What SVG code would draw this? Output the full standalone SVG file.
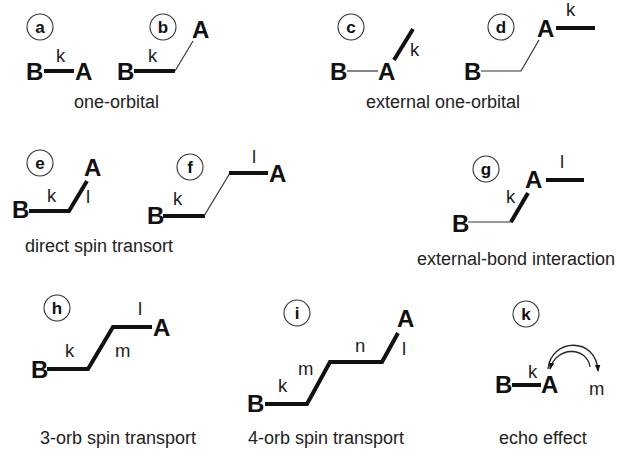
<svg xmlns="http://www.w3.org/2000/svg" width="622" height="449" viewBox="0 0 622 449">
  <defs>
    <marker id="tip" viewBox="0 0 10 10" refX="9" refY="5" markerWidth="7" markerHeight="7" orient="auto" markerUnits="userSpaceOnUse">
      <path d="M0,1 L10,5 L0,9 Z" fill="#111"/>
    </marker>
  </defs>
  <style>
    .atom { font-family: "Liberation Sans", Arial, sans-serif; font-weight: bold; font-size: 24px; fill: #111; }
    .lbl { font-family: "Liberation Sans", Arial, sans-serif; font-size: 18.5px; fill: #222; }
    .cap { font-family: "Liberation Sans", Arial, sans-serif; font-size: 18px; fill: #222; }
    .tag { font-family: "Liberation Sans", Arial, sans-serif; font-weight: bold; font-size: 17px; fill: #111; text-anchor: middle; }
    .ring { fill: none; stroke: #333; stroke-width: 1.1; }
    .thick { fill: none; stroke: #111; stroke-width: 4; stroke-linejoin: miter; }
    .thin { fill: none; stroke: #333; stroke-width: 1.2; }
    .arc { fill: none; stroke: #222; stroke-width: 1.3; marker-end: url(#tip); }
  </style>
  <rect width="622" height="449" fill="#fff"/>

  <!-- panel tags -->
  <g id="tags">
    <circle class="ring" cx="40" cy="27" r="13"/><text class="tag" x="40" y="33">a</text>
    <circle class="ring" cx="163" cy="27" r="13"/><text class="tag" x="163" y="33">b</text>
    <circle class="ring" cx="351" cy="27" r="13"/><text class="tag" x="351" y="33">c</text>
    <circle class="ring" cx="501" cy="27" r="13"/><text class="tag" x="501" y="33">d</text>
    <circle class="ring" cx="40" cy="163" r="13"/><text class="tag" x="40" y="169">e</text>
    <circle class="ring" cx="190" cy="167" r="13"/><text class="tag" x="190" y="173">f</text>
    <circle class="ring" cx="486" cy="169" r="13"/><text class="tag" x="486" y="175">g</text>
    <circle class="ring" cx="57" cy="308" r="13"/><text class="tag" x="57" y="314">h</text>
    <circle class="ring" cx="297" cy="313" r="13"/><text class="tag" x="297" y="319">i</text>
    <circle class="ring" cx="526" cy="314" r="13"/><text class="tag" x="526" y="320">k</text>
  </g>

  <!-- bonds -->
  <g id="connectors">
    <!-- a -->
    <path class="thick" d="M44,71 H74"/>
    <!-- b -->
    <path class="thick" d="M134,71 H175"/>
    <path class="thin" d="M175,71 L193,41"/>
    <!-- c -->
    <path class="thin" d="M347,71 H378"/>
    <path class="thick" d="M394,60 L413,29"/>
    <!-- d -->
    <path class="thin" d="M481,71 H521 L539,40"/>
    <path class="thick" d="M556,28 H595"/>
    <!-- e -->
    <path class="thick" d="M29,211 H69 L87,181"/>
    <!-- f -->
    <path class="thick" d="M163,216 H205"/>
    <path class="thin" d="M204,216 L230,173"/>
    <path class="thick" d="M229,173 H268"/>
    <!-- g -->
    <path class="thin" d="M468,222 H512"/>
    <path class="thick" d="M511,222 L528,193"/>
    <path class="thick" d="M546,180 H584"/>
    <!-- h -->
    <path class="thick" d="M47,369 H88 L113,327 H152"/>
    <!-- i -->
    <path class="thick" d="M265,404 H307 L330,362 H382 L398,333"/>
    <!-- k -->
    <path class="thick" d="M512,385 H541"/>
    <path class="arc" d="M548,369 C551,338 596,336 598,371"/>
    <path class="arc" d="M590,367 C587,346 556,346 550,369"/>
  </g>

  <!-- a -->
  <g id="a">
    <text class="atom" x="26" y="80">B</text>
    <text class="atom" x="75" y="80">A</text>
    <text class="lbl" x="56" y="62">k</text>
  </g>
  <!-- b -->
  <g id="b">
    <text class="atom" x="117" y="80">B</text>
    <text class="atom" x="192" y="38">A</text>
    <text class="lbl" x="148" y="62">k</text>
  </g>
  <text class="cap" x="74" y="108">one-orbital</text>

  <!-- c -->
  <g id="c">
    <text class="atom" x="330" y="80">B</text>
    <text class="atom" x="378" y="80">A</text>
    <text class="lbl" x="410" y="56">k</text>
  </g>
  <!-- d -->
  <g id="d">
    <text class="atom" x="464" y="80">B</text>
    <text class="atom" x="537" y="37">A</text>
    <text class="lbl" x="566" y="16">k</text>
  </g>
  <text class="cap" x="366" y="108">external one-orbital</text>

  <!-- e -->
  <g id="e">
    <text class="atom" x="12" y="218">B</text>
    <text class="atom" x="84" y="176">A</text>
    <text class="lbl" x="47" y="202">k</text>
    <text class="lbl" x="86" y="203">l</text>
  </g>
  <!-- f -->
  <g id="f">
    <text class="atom" x="147" y="224">B</text>
    <text class="atom" x="269" y="182">A</text>
    <text class="lbl" x="173" y="205">k</text>
    <text class="lbl" x="252" y="163">l</text>
  </g>
  <text class="cap" x="25" y="252">direct spin transort</text>

  <!-- g -->
  <g id="g">
    <text class="atom" x="452" y="232">B</text>
    <text class="atom" x="525" y="188">A</text>
    <text class="lbl" x="506" y="203">k</text>
    <text class="lbl" x="560" y="168">l</text>
  </g>
  <text class="cap" x="417" y="265">external-bond interaction</text>

  <!-- h -->
  <g id="h">
    <text class="atom" x="31" y="378">B</text>
    <text class="atom" x="153" y="336">A</text>
    <text class="lbl" x="65" y="357">k</text>
    <text class="lbl" x="115" y="357">m</text>
    <text class="lbl" x="138" y="315">l</text>
  </g>
  <text class="cap" x="40" y="444">3-orb spin transport</text>

  <!-- i -->
  <g id="i">
    <text class="atom" x="247" y="412">B</text>
    <text class="atom" x="397" y="327">A</text>
    <text class="lbl" x="278" y="392">k</text>
    <text class="lbl" x="298" y="375">m</text>
    <text class="lbl" x="355" y="352">n</text>
    <text class="lbl" x="402" y="355">l</text>
  </g>
  <text class="cap" x="248" y="444">4-orb spin transport</text>

  <!-- k -->
  <g id="k">
    <text class="atom" x="495" y="393">B</text>
    <text class="atom" x="541" y="393">A</text>
    <text class="lbl" x="528" y="378">k</text>
    <text class="lbl" x="589" y="395">m</text>
  </g>
  <text class="cap" x="499" y="444">echo effect</text>
</svg>
